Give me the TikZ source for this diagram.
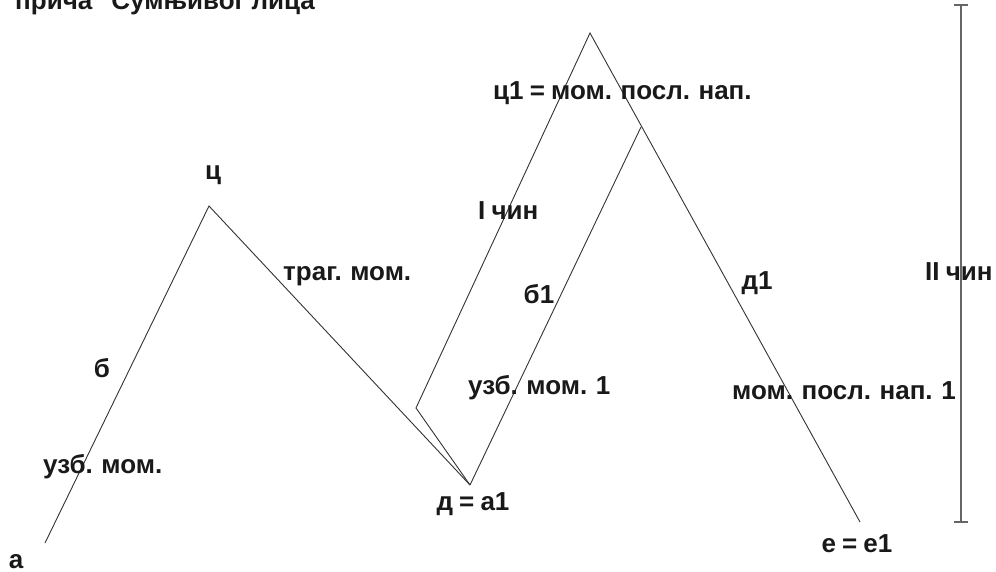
\documentclass[tikz,border=0pt]{standalone}
\usepackage{fontspec}
\setmainfont{Liberation Sans}[WordSpace=0.85]
\begin{document}
\begin{tikzpicture}[x=1pt,y=-1pt,
  lbl/.style={anchor=base,inner sep=0pt,font=\fontsize{26}{30}\selectfont\bfseries,text=black!90},
  curve/.style={draw=black!80,line width=0.9pt},
  bar/.style={draw=black!60,line width=1.3pt}]
\useasboundingbox (0,0) rectangle (996,572);
% points
\coordinate (a) at (45,543);
\coordinate (c) at (209,206);
\coordinate (d) at (470,485);
\coordinate (k) at (416,408);
\coordinate (c1) at (590,33);
\coordinate (b1top) at (641,127);
\coordinate (e) at (860,522);
\coordinate (bartop) at (961,5);
\coordinate (barbot) at (961,522);
% lines
\draw[curve] (a) -- (c) -- (d);
\draw[curve] (d) -- (k) -- (c1) -- (e);
\draw[curve] (d) -- (b1top);
\draw[bar] (bartop) -- (barbot);
\draw[bar] ([xshift=-7pt]bartop) -- ([xshift=7pt]bartop);
\draw[bar] ([xshift=-7pt]barbot) -- ([xshift=7pt]barbot);
% labels
\node[lbl,anchor=base west] (title) at (15,10) {прича “Сумњивог лица”};
\node[lbl] (la) at (16,568) {а};
\node[lbl] (lb) at (102,377) {б};
\node[lbl,anchor=base west] (luzb) at (43,473) {узб. мом.};
\node[lbl] (lc) at (213,180) {ц};
\node[lbl,anchor=base west] (ltrag) at (283,280) {траг. мом.};
\node[lbl] (ld) at (473,510) {д = а1};
\node[lbl,anchor=base west] (lc1) at (493,100) {ц1 = мом. посл. нап.};
\node[lbl,anchor=base west] (lI) at (478,220) {I чин};
\node[lbl] (lb1) at (539,303) {б1};
\node[lbl,anchor=base west] (luzb1) at (468,394) {узб. мом. 1};
\node[lbl] (ld1) at (757,289) {д1};
\node[lbl,anchor=base west] (lmom1) at (732,399) {мом. посл. нап. 1};
\node[lbl,anchor=base west] (lII) at (925,280) {II чин};
\node[lbl] (le) at (857,552) {е = е1};
\end{tikzpicture}
\end{document}
